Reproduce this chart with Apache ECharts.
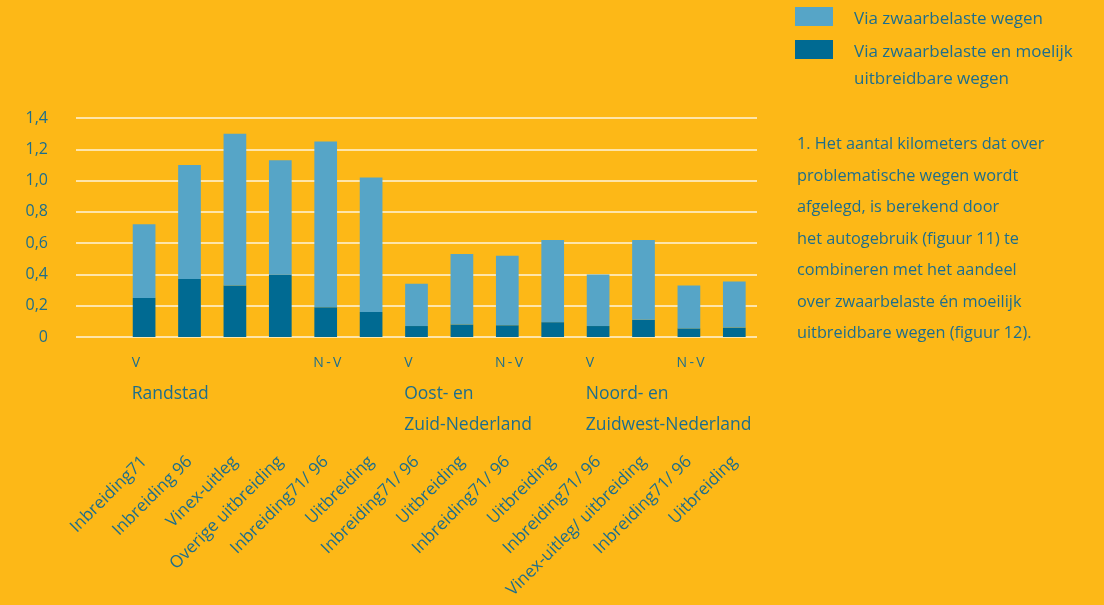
<!DOCTYPE html>
<html>
<head>
<meta charset="utf-8">
<script src="https://cdn.jsdelivr.net/npm/echarts@6/dist/echarts.min.js"></script>
<style>
  html, body { margin: 0; padding: 0; background: #FDB817; }
  #chart { width: 1104px; height: 605px; }
</style>
</head>
<body>
<div id="chart"></div>
<script>
// Categories (first slot is left empty on the axis)
const categories = ['', 'Inbreiding71', 'Inbreiding 96', 'Vinex-uitleg', 'Overige uitbreiding',
  'Inbreiding71/ 96', 'Uitbreiding', 'Inbreiding71/ 96', 'Uitbreiding', 'Inbreiding71/ 96',
  'Uitbreiding', 'Inbreiding71/ 96', 'Vinex-uitleg/ uitbreiding', 'Inbreiding71/ 96', 'Uitbreiding'];

// Lower segment: via zwaarbelaste en moeilijk uitbreidbare wegen
const hardRoads = [null, 0.25, 0.37, 0.33, 0.40, 0.19, 0.16, 0.07, 0.08, 0.075, 0.095, 0.07, 0.11, 0.055, 0.06];
// Upper segment: via zwaarbelaste wegen
const busyRoads = [null, 0.47, 0.73, 0.97, 0.73, 1.06, 0.86, 0.27, 0.45, 0.445, 0.525, 0.33, 0.51, 0.275, 0.295];

const yTicks = { min: 0, max: 1.4, interval: 0.2 };

// Markers under the bars (category index, text)
const markerLabels = [[1, 'V'], [5, 'N\u2009-\u2009V'], [7, 'V'], [9, 'N\u2009-\u2009V'], [11, 'V'], [13, 'N\u2009-\u2009V']];
// Region names (category index, lines)
const regionLabels = [[1, ['Randstad']], [7, ['Oost- en', 'Zuid-Nederland']], [11, ['Noord- en', 'Zuidwest-Nederland']]];

const legendNames = ['Via zwaarbelaste wegen', 'Via zwaarbelaste en moelijk'];
const legendExtra = 'uitbreidbare wegen';
const noteLines = [
  '1. Het aantal kilometers dat over',
  'problematische wegen wordt',
  'afgelegd, is berekend door',
  'het autogebruik (figuur 11) te',
  'combineren met het aandeel',
  'over zwaarbelaste én moeilijk',
  'uitbreidbare wegen (figuur 12).'
];

const TEXT = '#1d6e8d';
const FONT = '"Open Sans", "Noto Sans", sans-serif';
const LIGHT = '#56A5C7';
const DARK = '#006A92';

const chart = echarts.init(document.getElementById('chart'), null, { renderer: 'canvas' });

const option = {
  backgroundColor: '#FDB817',
  animation: false,
  textStyle: { fontFamily: FONT, color: TEXT },
  grid: { left: 76, right: 347, top: 118, bottom: 268, containLabel: false },
  legend: {
    orient: 'vertical',
    left: 795, top: 7, padding: 0,
    itemWidth: 38, itemHeight: 19, itemGap: 12,
    icon: 'rect',
    selectedMode: false,
    data: [legendNames[0], legendNames[1]],
    formatter: name => '{t|' + name + '}',
    textStyle: {
      fontFamily: FONT, fontSize: 17, color: TEXT,
      rich: { t: { fontFamily: FONT, fontSize: 17, color: TEXT, padding: [6, 0, 0, 16] } }
    }
  },
  xAxis: {
    type: 'category',
    data: categories,
    axisLine: { show: false },
    axisTick: { show: false },
    axisLabel: {
      interval: 0, rotate: 45, margin: 122,
      fontFamily: FONT, fontSize: 17, color: TEXT
    }
  },
  yAxis: {
    type: 'value',
    min: yTicks.min, max: yTicks.max, interval: yTicks.interval,
    axisLine: { show: false },
    axisTick: { show: false },
    splitLine: { lineStyle: { color: '#ffffff', width: 1.5, opacity: 0.85 } },
    axisLabel: {
      margin: 28, fontFamily: FONT, fontSize: 16, color: TEXT,
      formatter: v => v === 0 ? '0' : v.toFixed(1).replace('.', ',')
    }
  },
  series: [
    {
      name: legendNames[1], type: 'bar', stack: 'km', barWidth: '50%',
      itemStyle: { color: DARK }, data: hardRoads
    },
    {
      name: legendNames[0], type: 'bar', stack: 'km', barWidth: '50%',
      itemStyle: { color: LIGHT }, data: busyRoads
    }
  ]
};
chart.setOption(option);

// Text blocks placed from the category axis positions
const step = chart.convertToPixel({ xAxisIndex: 0 }, 1) - chart.convertToPixel({ xAxisIndex: 0 }, 0);
const graphics = [];
markerLabels.forEach(([idx, txt]) => {
  const x = chart.convertToPixel({ xAxisIndex: 0 }, idx) - step / 4;
  graphics.push({ type: 'text', left: x - 1, top: 356,
    style: { text: txt, fill: TEXT, font: '14px ' + FONT } });
});
regionLabels.forEach(([idx, lines]) => {
  const x = chart.convertToPixel({ xAxisIndex: 0 }, idx) - step / 4;
  graphics.push({ type: 'text', left: x - 1, top: 379,
    style: { text: lines.join('\n'), fill: TEXT, font: '17.5px ' + FONT, lineHeight: 31 } });
});
graphics.push({ type: 'text', left: 854, top: 71,
  style: { text: legendExtra, fill: TEXT, font: '17px ' + FONT } });
graphics.push({ type: 'text', left: 797, top: 129,
  style: { text: noteLines.join('\n'), fill: TEXT, font: '16.3px ' + FONT, lineHeight: 31.5 } });
chart.setOption({ graphic: graphics });
</script>
</body>
</html>
